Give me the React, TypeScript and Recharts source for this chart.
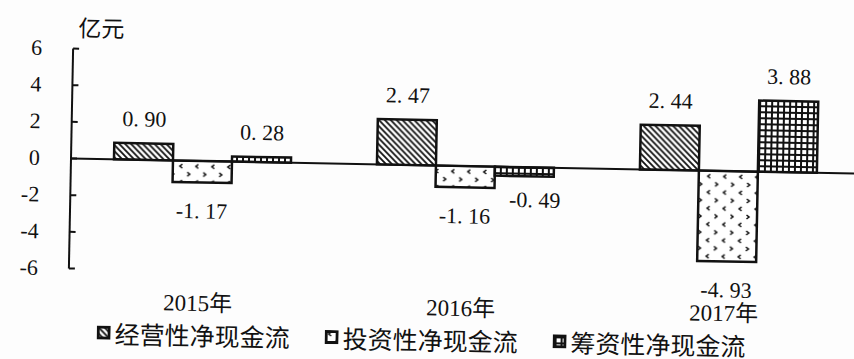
import React from 'react';
import { BarChart, Bar, XAxis, YAxis, ReferenceLine, Legend, LabelList } from 'recharts';

// Net cash flow by year (亿元)
const years = ['2015年', '2016年', '2017年'];
const operatingFlow = [0.9, 2.47, 2.44];
const investingFlow = [-1.17, -1.16, -4.93];
const financingFlow = [0.28, -0.49, 3.88];
const seriesNames = ['经营性净现金流', '投资性净现金流', '筹资性净现金流'];
const yTicks = [-6, -4, -2, 0, 2, 4, 6];
const unitLabel = '亿元';

const data = years.map((year, i) => ({
  year,
  operating: operatingFlow[i],
  investing: investingFlow[i],
  financing: financingFlow[i],
}));

const INK = '#111';
const NUM_FONT = '"Liberation Serif", "Noto Sans CJK SC", serif';
const CJK_FONT = '"Noto Sans CJK SC", sans-serif';

// slight page tilt, pivoting on the axis origin
const TILT = 'rotate(1.1deg)';
const PIVOT_X = 71;
const PIVOT_Y = 158.5;
const CHART_W = 880;
const CHART_H = 359;
const LEGEND_H = 30;
const MARGIN_BOTTOM = 12.5;
const X_AXIS_H = 48;

const series = [
  { key: 'operating', name: seriesNames[0], fill: 'url(#hatchDiag)', negDx: 0, negDy: 0 },
  { key: 'investing', name: seriesNames[1], fill: 'url(#chevrons)', negDx: 0, negDy: 0 },
  { key: 'financing', name: seriesNames[2], fill: 'url(#gridFill)', negDx: 11, negDy: -5 },
];

const formatValue = (v: number) => v.toFixed(2).replace('.', '. ');

const makeValueLabel = (negDx: number, negDy: number) => (props: any) => {
  const x = Number(props.x);
  const y = Number(props.y);
  const w = Number(props.width);
  const h = Number(props.height);
  const v = Number(props.value);
  const top = Math.min(y, y + h);
  const bottom = Math.max(y, y + h);
  const cx = x + w / 2;
  const common = {
    textAnchor: 'middle' as const,
    fontSize: 22,
    fontFamily: NUM_FONT,
    fill: INK,
  };
  if (v >= 0) {
    return (
      <text x={cx} y={top - 17} {...common}>
        {formatValue(v)}
      </text>
    );
  }
  return (
    <text x={cx + negDx} y={bottom + 36 + negDy} {...common}>
      {formatValue(v)}
    </text>
  );
};

const YTick = (props: any) => {
  const { x, y, payload } = props;
  return (
    <g>
      <line x1={x} y1={y} x2={x + 6} y2={y} stroke={INK} strokeWidth={2} />
      <text x={x - 31} y={y + 7} textAnchor="end" fontSize={22} fontFamily={NUM_FONT} fill={INK}>
        {payload.value}
      </text>
    </g>
  );
};

const XTick = (props: any) => {
  const { x, y, payload } = props;
  return (
    <text x={x - 2} y={y + 40} textAnchor="middle" fontSize={23} fontFamily={NUM_FONT} fill={INK}>
      {payload.value}
    </text>
  );
};

const UnitLabel = (props: any) => {
  const vb = props.viewBox || { x: 0, y: 48.5, width: 71 };
  return (
    <text
      x={vb.x + vb.width + 28}
      y={vb.y - 12}
      textAnchor="middle"
      fontSize={23}
      fontFamily={CJK_FONT}
      fill={INK}
    >
      {unitLabel}
    </text>
  );
};

const legendTop = CHART_H - MARGIN_BOTTOM - LEGEND_H;

const LegendContent = () => (
  <div
    style={{
      display: 'flex',
      height: LEGEND_H,
      alignItems: 'center',
      paddingLeft: 100,
      transform: TILT,
      transformOrigin: `${PIVOT_X}px ${PIVOT_Y - legendTop}px`,
    }}
  >
    {series.map((s) => (
      <div key={s.key} style={{ display: 'flex', alignItems: 'center', width: 228 }}>
        <svg width={14} height={14} style={{ marginRight: 4, display: 'block' }}>
          <rect x={1.5} y={1.5} width={11} height={11} fill={s.fill} stroke={INK} strokeWidth={3} />
        </svg>
        <span
          style={{
            fontFamily: CJK_FONT,
            fontSize: 25,
            lineHeight: '25px',
            color: INK,
            whiteSpace: 'nowrap',
          }}
        >
          {s.name}
        </span>
      </div>
    ))}
  </div>
);

export default function App() {
  return (
    <div
      className="cash-chart"
      style={{
        position: 'fixed',
        left: 0,
        top: 0,
        width: 854,
        height: 359,
        overflow: 'hidden',
        background: '#fdfdfd',
      }}
    >
      <style>{`.cash-chart .recharts-surface { transform: ${TILT}; transform-origin: ${PIVOT_X}px ${PIVOT_Y}px; overflow: visible; }`}</style>
      <BarChart
        width={CHART_W}
        height={CHART_H}
        data={data}
        margin={{ top: 48.5, right: 20, bottom: MARGIN_BOTTOM, left: 0 }}
        barCategoryGap={43}
        barGap={0}
      >
        <defs>
          <pattern id="hatchDiag" patternUnits="userSpaceOnUse" width={6} height={6}>
            <rect width={6} height={6} fill="#fff" />
            <path d="M-1,-1 L7,7 M-1,5 L1,7 M5,-1 L7,1" stroke={INK} strokeWidth={1.8} />
          </pattern>
          <pattern id="chevrons" patternUnits="userSpaceOnUse" width={16} height={16}>
            <rect width={16} height={16} fill="#fff" />
            <path d="M6.5,2 L4,4 L6.5,6" fill="none" stroke={INK} strokeWidth={1.6} />
            <path d="M11.5,10 L14,12 L11.5,14" fill="none" stroke={INK} strokeWidth={1.6} />
          </pattern>
          <pattern id="gridFill" patternUnits="userSpaceOnUse" width={6} height={6}>
            <rect width={6} height={6} fill="#fff" />
            <path d="M3,0 V6 M0,3 H6" stroke={INK} strokeWidth={2} />
          </pattern>
        </defs>
        <XAxis
          dataKey="year"
          height={X_AXIS_H}
          axisLine={false}
          tickLine={false}
          tickSize={0}
          tickMargin={0}
          tick={<XTick />}
          interval={0}
        />
        <YAxis
          width={71}
          domain={[-6, 6]}
          ticks={yTicks}
          allowDataOverflow
          axisLine={{ stroke: INK, strokeWidth: 2 }}
          tickLine={false}
          tickSize={0}
          tickMargin={0}
          tick={<YTick />}
          label={{ content: <UnitLabel /> }}
        />
        <ReferenceLine y={0} stroke={INK} strokeWidth={2} />
        {series.map((s) => (
          <Bar
            key={s.key}
            dataKey={s.key}
            name={s.name}
            fill={s.fill}
            stroke={INK}
            strokeWidth={2.5}
            isAnimationActive={false}
          >
            <LabelList dataKey={s.key} content={makeValueLabel(s.negDx, s.negDy)} />
          </Bar>
        ))}
        <Legend
          verticalAlign="bottom"
          align="left"
          height={LEGEND_H}
          wrapperStyle={{ left: 0, width: CHART_W }}
          content={<LegendContent />}
        />
      </BarChart>
    </div>
  );
}
